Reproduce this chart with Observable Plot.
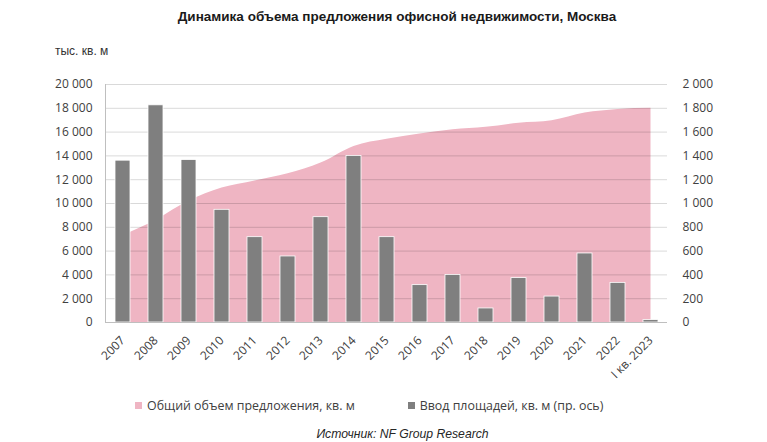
<!DOCTYPE html>
<html>
<head>
<meta charset="utf-8">
<script src="https://cdn.jsdelivr.net/npm/d3@7"></script>
<script src="https://cdn.jsdelivr.net/npm/@observablehq/plot@0.6"></script>
<style>
  html, body { margin: 0; padding: 0; background: #fff; }
  #wrap { position: relative; width: 767px; height: 442px; overflow: hidden; }
  #wrap svg { position: absolute; left: 0; top: 0; }
  .t { position: absolute; white-space: nowrap; }
  #title { left: 0; width: 794px; text-align: center; top: 9px; font-family: "Liberation Sans", Arial, sans-serif; font-weight: bold; font-size: 13.5px; color: #1a1a1a; }
  #unit { left: 55px; top: 44px; font-family: "Liberation Sans Narrow", "Arial Narrow", "Liberation Sans", sans-serif; font-stretch: condensed; font-size: 12px; color: #333; }
  #legend { left: 135px; top: 397px; font-family: "Open Sans", sans-serif; font-size: 12.4px; color: #404040; display: flex; align-items: center; }
  #legend .sw { display: inline-block; width: 7px; height: 7px; margin-right: 5px; }
  #legend .item { display: flex; align-items: center; margin-right: 53px; }
  #caption { left: 0; width: 805px; text-align: center; top: 427px; font-family: "Liberation Sans", Arial, sans-serif; font-style: italic; font-size: 12.2px; color: #262626; }
</style>
</head>
<body>
<div id="wrap">
  <div class="t" id="title"></div>
  <div class="t" id="unit"></div>
  <div class="t" id="legend"></div>
  <div class="t" id="caption"></div>
</div>
<script>
const years = ["2007","2008","2009","2010","2011","2012","2013","2014","2015","2016","2017","2018","2019","2020","2021","2022","I кв. 2023"];
const totalSupply = [7300, 8600, 10200, 11300, 11900, 12500, 13400, 14800, 15400, 15850, 16200, 16400, 16750, 16950, 17600, 17900, 18000];
const newSupply = [1360, 1825, 1365, 947, 717, 555, 885, 1400, 717, 314, 400, 118, 373, 218, 580, 333, 20];
const leftTicks = [0, 2000, 4000, 6000, 8000, 10000, 12000, 14000, 16000, 18000, 20000];
const rightRatio = 10; // right axis (0–2 000) mapped on left axis (0–20 000)

const titleText = "Динамика объема предложения офисной недвижимости, Москва";
const unitText = "тыс. кв. м";
const seriesNames = ["Общий объем предложения, кв. м", "Ввод площадей, кв. м (пр. ось)"];
const colors = ["#efb5c3", "#7f7f7f"];
const captionText = "Источник: NF Group Research";

const data = years.map((year, i) => ({year, total: totalSupply[i], added: newSupply[i]}));
const fmt = d3.formatLocale({decimal: ",", thousands: " ", grouping: [3], currency: ["", ""]}).format(",d");

const chart = Plot.plot({
  width: 767,
  height: 442,
  marginTop: 84,
  marginBottom: 120,
  marginLeft: 105,
  marginRight: 100,
  style: {fontFamily: "'Open Sans', sans-serif", fontSize: "12px", color: "#404040", background: "transparent", overflow: "visible"},
  x: {domain: years, paddingInner: 0.55, paddingOuter: 0.275, label: null},
  y: {domain: [0, 20000], label: null},
  marks: [
    Plot.areaY(data, {x: "year", y: "total", fill: colors[0], curve: "monotone-x"}),
    Plot.gridY(leftTicks, {stroke: "#000", strokeOpacity: 0.15}),
    Plot.frame({anchor: "left", stroke: "#bfbfbf"}),
    Plot.barY(data, {x: "year", y: d => d.added * rightRatio, fill: colors[1], stroke: "#fff", strokeWidth: 0.8}),
    Plot.ruleY([0], {stroke: "#bfbfbf"}),
    Plot.axisY(leftTicks, {anchor: "left", tickFormat: fmt, tickSize: 0, tickPadding: 13, label: null, fill: "#404040"}),
    Plot.axisY(leftTicks, {anchor: "right", tickFormat: d => fmt(d / rightRatio), tickSize: 0, tickPadding: 15, label: null, fill: "#404040"}),
    Plot.axisX({tickRotate: -45, tickSize: 0, tickPadding: 16, label: null, fill: "#404040"})
  ]
});
document.getElementById("wrap").prepend(chart);

document.getElementById("title").textContent = titleText;
document.getElementById("unit").textContent = unitText;
document.getElementById("caption").textContent = captionText;
const legend = document.getElementById("legend");
seriesNames.forEach((name, i) => {
  const item = document.createElement("span");
  item.className = "item";
  const sw = document.createElement("span");
  sw.className = "sw";
  sw.style.background = colors[i];
  item.appendChild(sw);
  item.appendChild(document.createTextNode(name));
  legend.appendChild(item);
});
</script>
</body>
</html>
